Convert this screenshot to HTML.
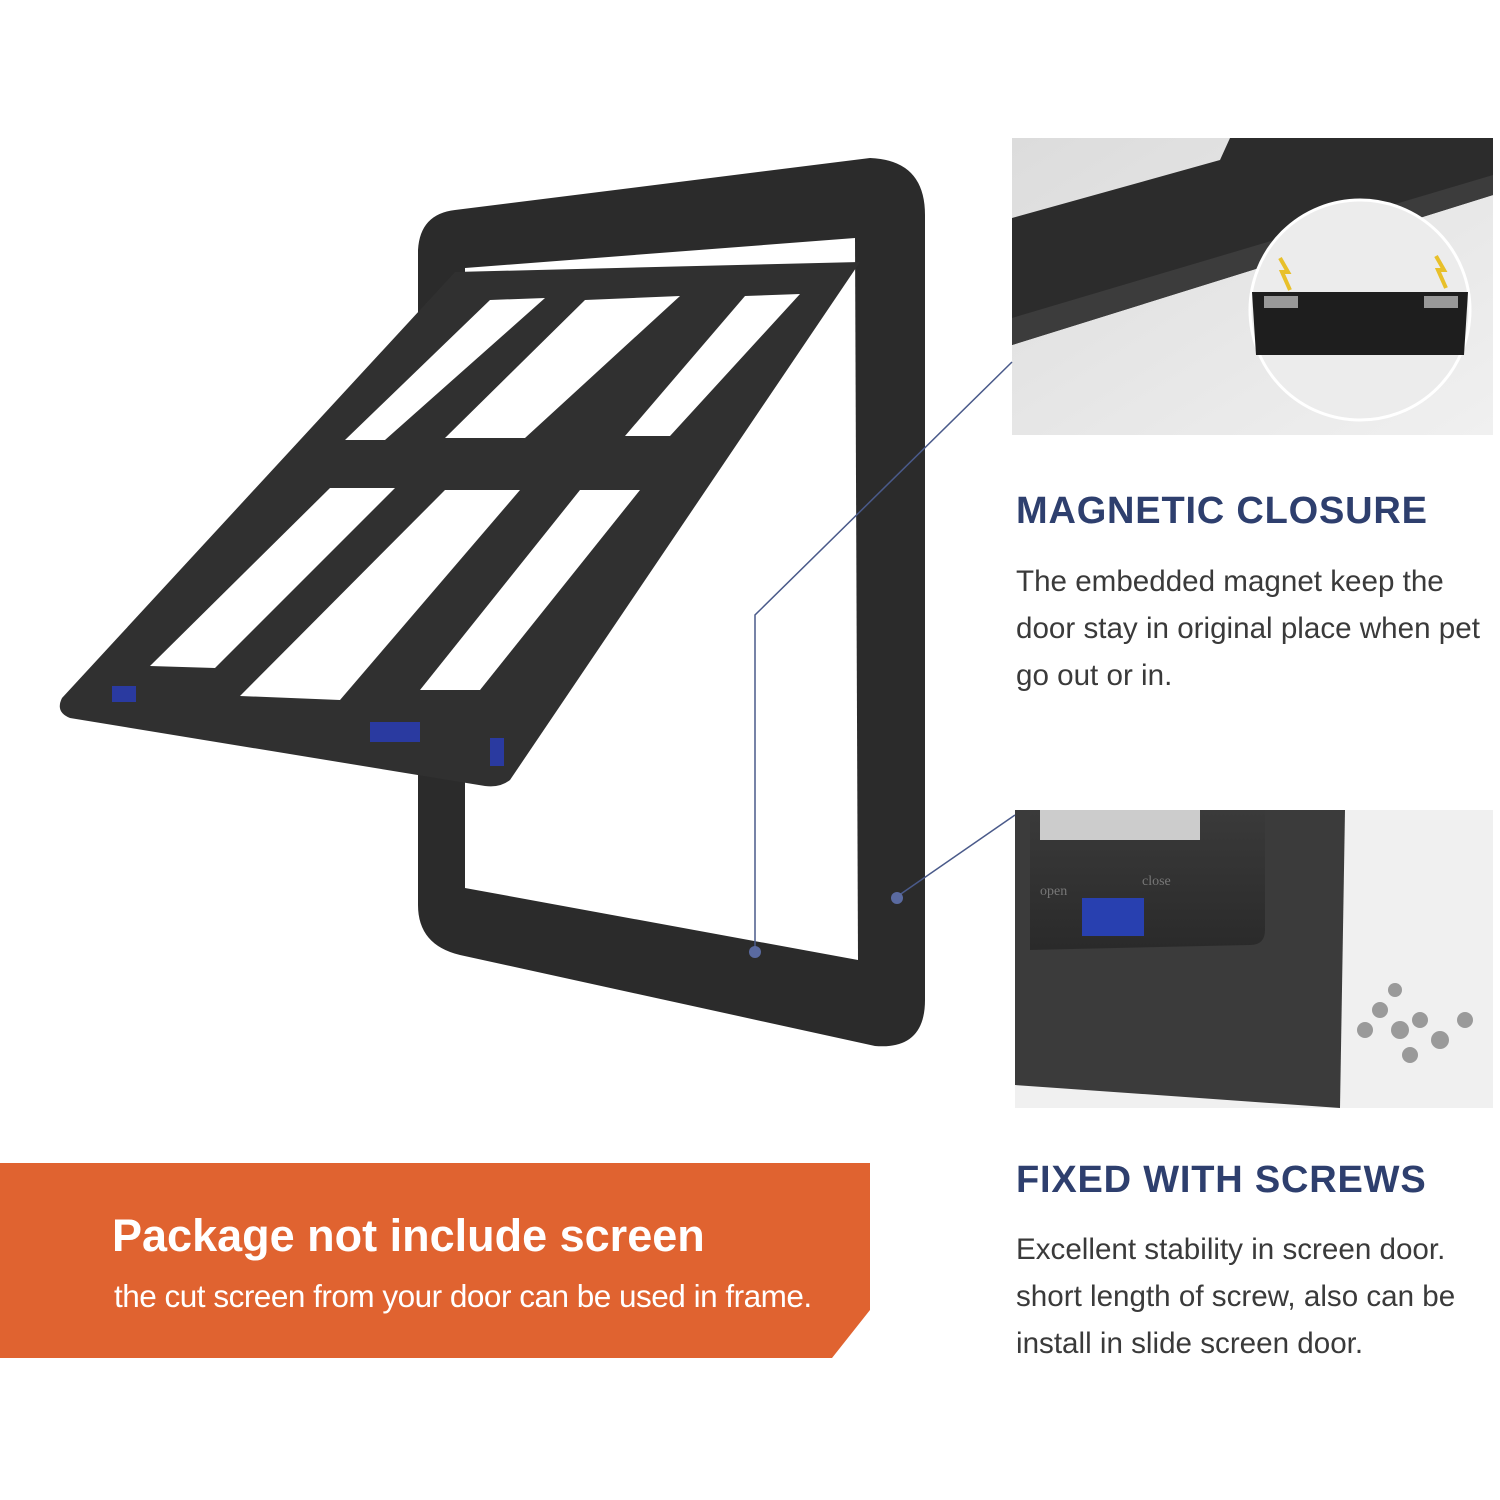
<!DOCTYPE html>
<html><head><meta charset="utf-8"><style>
body{margin:0;background:#fff;}
.wrap{position:relative;width:1500px;height:1500px;overflow:hidden;background:#fff;font-family:"Liberation Sans",sans-serif;}
.h{position:absolute;left:1016px;color:#2e3f6e;font-weight:bold;font-size:38px;letter-spacing:0.8px;}
.p{position:absolute;left:1016px;color:#3a3a3a;font-size:29.6px;line-height:47px;}
</style></head><body><div class="wrap">
<svg width="1500" height="1500" style="position:absolute;left:0;top:0">
<defs>
<linearGradient id="g1" x1="0" y1="0" x2="1" y2="1"><stop offset="0" stop-color="#dcdcdc"/><stop offset="1" stop-color="#f0f0f0"/></linearGradient>
<linearGradient id="g2" x1="0" y1="0" x2="0" y2="1"><stop offset="0" stop-color="#3a3a3a"/><stop offset="1" stop-color="#2a2a2a"/></linearGradient>
</defs>
<!-- frame -->
<path d="M455 210 L870 158 Q925 160 925 215 L925 1000 Q925 1050 875 1046 L460 955 Q418 945 418 905 L418 250 Q420 214 455 210 Z" fill="#2b2b2b"/>
<path d="M465 268 L855 238 L858 960 L465 888 Z" fill="#fff"/>
<!-- flap -->
<path d="M455 272 L860 262 L510 780 Q500 788 485 786 L70 718 Q55 712 62 698 Z" fill="#303030"/>
<g fill="#fff">
<path d="M490 300 L545 298 L385 440 L345 440 Z"/>
<path d="M585 300 L680 296 L525 438 L445 438 Z"/>
<path d="M745 296 L800 294 L670 436 L625 436 Z"/>
<path d="M330 488 L395 488 L215 668 L150 666 Z"/>
<path d="M445 490 L520 490 L340 700 L240 696 Z"/>
<path d="M580 490 L640 490 L480 690 L420 690 Z"/>
</g>
<rect x="370" y="722" width="50" height="20" fill="#2a3aa0"/>
<rect x="112" y="686" width="24" height="16" fill="#2a3aa0"/>
<rect x="490" y="738" width="14" height="28" fill="#2a3aa0"/>
<!-- right photo top -->
<rect x="1012" y="138" width="481" height="297" fill="url(#g1)"/>
<path d="M1012 218 L1220 160 L1230 138 L1493 138 L1493 195 L1012 345 Z" fill="#2c2c2c"/>
<path d="M1012 318 L1493 175 L1493 195 L1012 345 Z" fill="#3c3c3c"/>
<circle cx="1360" cy="310" r="110" fill="#ececec" stroke="#fff" stroke-width="3"/>
<path d="M1252 292 L1468 292 L1464 355 L1256 355 Z" fill="#1e1e1e"/>
<rect x="1264" y="296" width="34" height="12" fill="#999"/><rect x="1424" y="296" width="34" height="12" fill="#999"/>
<path d="M1280 258 L1288 272 L1282 272 L1290 290" stroke="#e8c02a" stroke-width="4" fill="none"/>
<path d="M1436 256 L1444 270 L1438 270 L1446 288" stroke="#e8c02a" stroke-width="4" fill="none"/>
<!-- right photo bottom -->
<rect x="1015" y="810" width="478" height="298" fill="#f0f0f0"/>
<path d="M1015 810 L1345 810 L1340 1108 L1015 1085 Z" fill="#3b3b3b"/>
<path d="M1030 810 L1265 810 L1265 930 Q1265 945 1250 945 L1030 950 Z" fill="url(#g2)"/>
<rect x="1040" y="810" width="160" height="30" fill="#ccc"/>
<rect x="1082" y="898" width="62" height="38" fill="#2840b0"/>
<text x="1040" y="895" font-size="14" fill="#777" font-family="Liberation Serif">open</text>
<text x="1142" y="885" font-size="14" fill="#777" font-family="Liberation Serif">close</text>
<g fill="#9a9a9a"><circle cx="1380" cy="1010" r="8"/><circle cx="1400" cy="1030" r="9"/><circle cx="1420" cy="1020" r="8"/><circle cx="1440" cy="1040" r="9"/><circle cx="1365" cy="1030" r="8"/><circle cx="1410" cy="1055" r="8"/><circle cx="1465" cy="1020" r="8"/><circle cx="1395" cy="990" r="7"/></g>
<!-- connectors -->
<polyline points="755,952 755,615 1012,362" fill="none" stroke="#4a5a8a" stroke-width="1.5"/>
<line x1="895" y1="898" x2="1015" y2="815" stroke="#4a5a8a" stroke-width="1.5"/>
<circle cx="755" cy="952" r="6" fill="#5a6aa0"/><circle cx="897" cy="898" r="6" fill="#5a6aa0"/>
<!-- banner -->
<path d="M0 1163 L870 1163 L870 1310 L832 1358 L0 1358 Z" fill="#e06330"/>
</svg>
<div style="position:absolute;left:112px;top:1210px;color:#fff;font-weight:bold;font-size:45px;">Package not include screen</div>
<div style="position:absolute;left:114px;top:1278px;color:#fff;font-size:31.5px;letter-spacing:-0.5px;">the cut screen from your door can be used in frame.</div>
<div class="h" style="top:490px;">MAGNETIC CLOSURE</div>
<div class="p" style="top:558px;">The embedded magnet keep the<br>door stay in original place when pet<br>go out or in.</div>
<div class="h" style="top:1159px;">FIXED WITH SCREWS</div>
<div class="p" style="top:1226px;">Excellent stability in screen door.<br>short length of screw, also can be<br>install in slide screen door.</div>
</div></body></html>
